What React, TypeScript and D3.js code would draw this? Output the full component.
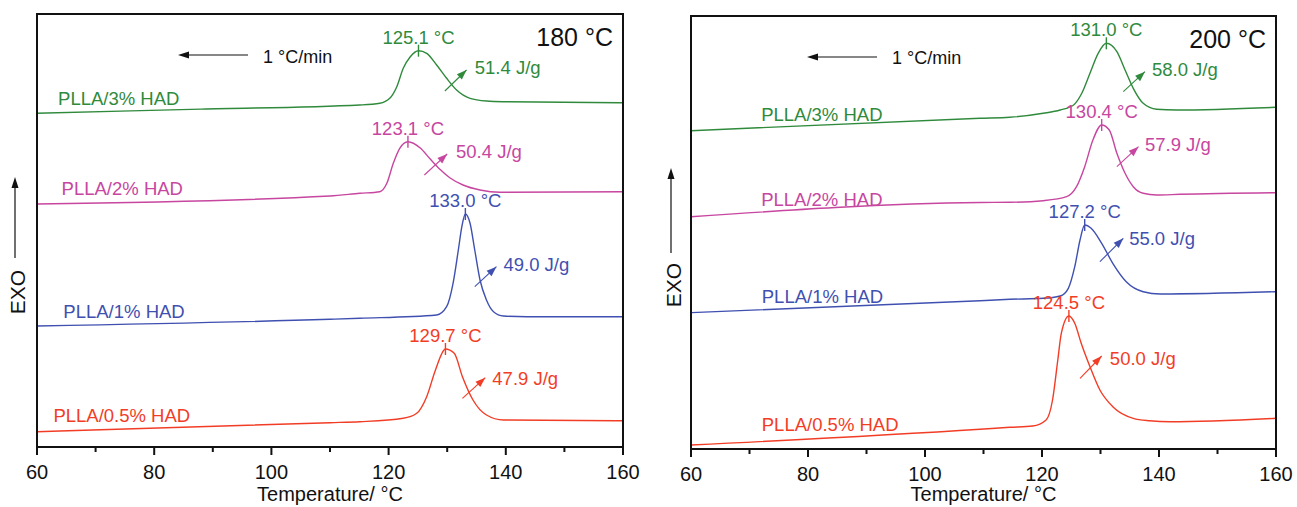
import React from "react";
import * as d3 from "d3";

// ---------- DATA ----------
const xTicksMajor = [60, 80, 100, 120, 140, 160];
const xTicksMinor = [70, 90, 110, 130, 150];
const seriesNames = ["PLLA/3% HAD", "PLLA/2% HAD", "PLLA/1% HAD", "PLLA/0.5% HAD"];
const seriesColors = ["#2f8a3c", "#c7469f", "#3f50b0", "#f23d26"];
const panelTitles = ["180 °C", "200 °C"];
const rateLabel = "1 °C/min";
const xTitle = "Temperature/ °C";

// 180 °C panel (temperature °C, heat flow arbitrary units)
const t180_3 = [60, 88, 115.1, 118.5, 120.2, 121.4, 122.5, 123.7, 125.1, 126.5, 128.2, 129.9, 131.6, 133.9, 136.7, 139.6, 160];
const v180_3 = [333.7, 337.9, 342, 343.7, 348.7, 360.3, 378.7, 390.3, 396.3, 393.7, 382, 368.7, 357, 348.7, 346, 345.3, 344.3];
const t180_2 = [60, 110, 115.1, 118.5, 119.7, 120.8, 121.9, 123.3, 125.4, 127.1, 128.8, 130.5, 132.7, 135.6, 139.0, 160];
const v180_2 = [243, 251, 253.7, 255.3, 263.7, 283.7, 298.7, 305.3, 299, 288, 277.5, 269, 262, 257, 254.7, 255.3];
const t180_1 = [60, 110, 115.1, 128.2, 129.9, 131.0, 131.9, 132.5, 133.1, 133.9, 134.7, 135.6, 136.7, 137.9, 139.6, 143.6, 160];
const v180_1 = [121, 127.7, 128.7, 132, 140.3, 163.7, 197, 220.3, 233, 223.7, 197, 167, 147, 135.3, 131, 130.3, 130.3];
const t180_05 = [60, 110, 115.1, 122.5, 124.8, 126.5, 128.0, 129.7, 131.2, 132.6, 134.4, 136.7, 139.6, 160];
const v180_05 = [15.3, 24.3, 25.3, 28.7, 33.7, 50.3, 77, 98, 93.7, 70.3, 47, 32, 27, 26.3];

// 200 °C panel
const t200_3 = [60, 109.4, 114.5, 120.2, 123.1, 125.4, 126.8, 128.2, 129.6, 131.0, 132.8, 134.2, 135.6, 137.3, 139.6, 143.0, 160];
const v200_3 = [318.3, 330.7, 331.7, 335.7, 339, 344, 355.7, 375.7, 395.7, 405.7, 397.3, 379, 360.7, 345.7, 339.7, 339, 341.7];
const t200_2 = [60, 109.4, 114.5, 120.2, 124.2, 125.9, 127.3, 128.7, 130.2, 131.5, 132.8, 134.2, 135.6, 137.3, 139.6, 143.6, 160];
const v200_2 = [232.3, 246.5, 246.7, 248.3, 252.3, 262.3, 282.3, 309, 324, 319, 295.7, 275.7, 262.3, 255.7, 254, 254.7, 256.3];
const t200_1 = [60, 109.4, 114.5, 120.2, 123.1, 124.5, 125.6, 126.5, 127.3, 128.4, 130.2, 132.1, 134.4, 137.3, 140.2, 160];
const v200_1 = [136.3, 148.3, 149.7, 150.7, 153, 160.7, 182.3, 209, 224, 220.7, 205.7, 185.7, 167.3, 157.3, 155, 157.3];
const t200_05 = [60, 109.4, 114.5, 118.4, 120.7, 121.8, 122.7, 123.3, 124.6, 125.6, 126.7, 128.2, 129.9, 132.1, 135.6, 138.4, 141.9, 160];
const v200_05 = [4, 19.7, 21.7, 23, 29, 49, 89, 115.7, 133, 125.7, 105.7, 82.3, 59, 42.3, 30.7, 28.3, 27.3, 30.7];

const peakLabels180 = ["125.1 °C", "123.1 °C", "133.0 °C", "129.7 °C"];
const enthalpy180 = ["51.4 J/g", "50.4 J/g", "49.0 J/g", "47.9 J/g"];
const peakLabels200 = ["131.0 °C", "130.4 °C", "127.2 °C", "124.5 °C"];
const enthalpy200 = ["58.0 J/g", "57.9 J/g", "55.0 J/g", "50.0 J/g"];

// ---------- LAYOUT (annotation anchors in data coordinates) ----------
// [startT, startV, endT, endV, textT, textV]
const arrows180 = [
  [129.6, 356, 133.3, 377, 134.7, 379.3],
  [126.1, 272, 130.0, 293, 131.5, 295.3],
  [134.7, 160.3, 138.4, 180.3, 139.6, 182],
  [132.6, 48.7, 136.5, 69.3, 137.7, 68.7],
];
const arrows200 = [
  [133.9, 357.3, 137.6, 377.3, 138.8, 379],
  [132.8, 282.3, 136.5, 302.3, 137.6, 304],
  [129.9, 187.3, 133.9, 210.7, 134.9, 210.7],
  [126.5, 70.7, 130.2, 93, 131.6, 90.7],
];
const nameAnchors180 = [[63.6, 348.7], [64.2, 258.7], [64.5, 135.3], [62.8, 31.3]];
const nameAnchors200 = [[72.0, 334], [72.0, 249.7], [72.1, 152.3], [72.1, 24]];

const FONT = "'Liberation Sans', Arial, Helvetica, sans-serif";

type Panel = {
  left: number; right: number; top: number; bottom: number;
  title: string;
  series: { t: number[]; v: number[] }[];
  peaks: string[]; enth: string[];
  arrows: number[][]; names: number[][];
  rateArrow: [number, number, number];
  rateText: [number, number];
  exo: { x: number; yTop: number; yBot: number; tx: number; ty: number };
};

const panels: Panel[] = [
  {
    left: 37, right: 623, top: 14, bottom: 447, title: panelTitles[0],
    series: [
      { t: t180_3, v: v180_3 }, { t: t180_2, v: v180_2 },
      { t: t180_1, v: v180_1 }, { t: t180_05, v: v180_05 },
    ],
    peaks: peakLabels180, enth: enthalpy180, arrows: arrows180, names: nameAnchors180,
    rateArrow: [248, 178, 55], rateText: [263, 57],
    exo: { x: 15, yTop: 177, yBot: 258, tx: 18, ty: 292 },
  },
  {
    left: 691, right: 1276, top: 16, bottom: 449, title: panelTitles[1],
    series: [
      { t: t200_3, v: v200_3 }, { t: t200_2, v: v200_2 },
      { t: t200_1, v: v200_1 }, { t: t200_05, v: v200_05 },
    ],
    peaks: peakLabels200, enth: enthalpy200, arrows: arrows200, names: nameAnchors200,
    rateArrow: [877, 807, 57], rateText: [892, 58],
    exo: { x: 671, yTop: 168, yBot: 253, tx: 674, ty: 285 },
  },
];

function arrowHead(x1: number, y1: number, x2: number, y2: number, len: number, hw: number) {
  const dx = x2 - x1, dy = y2 - y1;
  const L = Math.hypot(dx, dy);
  const ux = dx / L, uy = dy / L;
  const nx = -uy, ny = ux;
  const bx = x2 - ux * len, by = y2 - uy * len;
  return `${x2},${y2} ${bx + nx * hw},${by + ny * hw} ${bx - nx * hw},${by - ny * hw}`;
}

function PanelView({ p }: { p: Panel }) {
  const x = d3.scaleLinear().domain([60, 160]).range([p.left, p.right]);
  const y = d3.scaleLinear().domain([0, 433]).range([p.bottom, p.top]);
  const line = d3
    .line<[number, number]>()
    .x((d) => x(d[0]))
    .y((d) => y(d[1]))
    .curve(d3.curveMonotoneX);

  return (
    <g>
      {p.series.map((s, i) => {
        const pts: [number, number][] = s.t.map((t, k) => [t, s.v[k]]);
        const pk = pts[d3.maxIndex(pts, (d) => d[1])];
        const px = x(pk[0]), py = y(pk[1]);
        const a = p.arrows[i];
        const ax1 = x(a[0]), ay1 = y(a[1]), ax2 = x(a[2]), ay2 = y(a[3]);
        const c = seriesColors[i];
        return (
          <g key={i}>
            <path d={line(pts) || ""} fill="none" stroke={c} strokeWidth={1.4} />
            <line x1={px} x2={px} y1={py - 6} y2={py + 6} stroke={c} strokeWidth={1.4} />
            <text x={px} y={py - 13.5} dy="0.35em" textAnchor="middle" fill={c} fontSize={18.5} fontFamily={FONT}>
              {p.peaks[i]}
            </text>
            <line x1={ax1} y1={ay1} x2={ax2} y2={ay2} stroke={c} strokeWidth={1.1} />
            <polygon points={arrowHead(ax1, ay1, ax2, ay2, 10, 3.6)} fill={c} />
            <text x={x(a[4])} y={y(a[5])} dy="0.35em" fill={c} fontSize={18.5} fontFamily={FONT}>
              {p.enth[i]}
            </text>
            <text x={x(p.names[i][0])} y={y(p.names[i][1])} dy="0.35em" fill={c} fontSize={18.5} fontFamily={FONT}>
              {seriesNames[i]}
            </text>
          </g>
        );
      })}

      <rect x={p.left} y={p.top} width={p.right - p.left} height={p.bottom - p.top} fill="none" stroke="#111" strokeWidth={2} />

      {xTicksMajor.map((t) => (
        <g key={"M" + t}>
          <line x1={x(t)} x2={x(t)} y1={p.bottom} y2={p.bottom + 8} stroke="#111" strokeWidth={2} />
          <text x={x(t)} y={p.bottom + 25} dy="0.35em" textAnchor="middle" fontSize={20} fontFamily={FONT} fill="#111">
            {t}
          </text>
        </g>
      ))}
      {xTicksMinor.map((t) => (
        <line key={"m" + t} x1={x(t)} x2={x(t)} y1={p.bottom} y2={p.bottom + 5} stroke="#111" strokeWidth={2} />
      ))}
      <text x={(p.left + p.right) / 2} y={494} dy="0.35em" textAnchor="middle" fontSize={20} fontFamily={FONT} fill="#111">
        {xTitle}
      </text>

      <text x={p.right - 10} y={p.top + 23} dy="0.35em" textAnchor="end" fontSize={25} fontFamily={FONT} fill="#111">
        {p.title}
      </text>

      <line x1={p.rateArrow[0]} x2={p.rateArrow[1] + 8} y1={p.rateArrow[2]} y2={p.rateArrow[2]} stroke="#111" strokeWidth={1.2} />
      <polygon points={arrowHead(p.rateArrow[0], p.rateArrow[2], p.rateArrow[1], p.rateArrow[2], 11, 3.5)} fill="#111" />
      <text x={p.rateText[0]} y={p.rateText[1]} dy="0.35em" fontSize={18} fontFamily={FONT} fill="#111">
        {rateLabel}
      </text>

      <line x1={p.exo.x} x2={p.exo.x} y1={p.exo.yBot} y2={p.exo.yTop + 8} stroke="#111" strokeWidth={1.2} />
      <polygon points={arrowHead(p.exo.x, p.exo.yBot, p.exo.x, p.exo.yTop, 11, 3.5)} fill="#111" />
      <text
        transform={`translate(${p.exo.tx},${p.exo.ty}) rotate(-90)`}
        dy="0.35em"
        textAnchor="middle"
        fontSize={21}
        fontFamily={FONT}
        fill="#111"
      >
        EXO
      </text>
    </g>
  );
}

export default function App() {
  return (
    <svg
      width={1297}
      height={507}
      viewBox="0 0 1297 507"
      style={{ position: "absolute", left: 0, top: 0, background: "#fff" }}
    >
      <rect x={0} y={0} width={1297} height={507} fill="#fff" />
      {panels.map((p, i) => (
        <PanelView key={i} p={p} />
      ))}
    </svg>
  );
}
